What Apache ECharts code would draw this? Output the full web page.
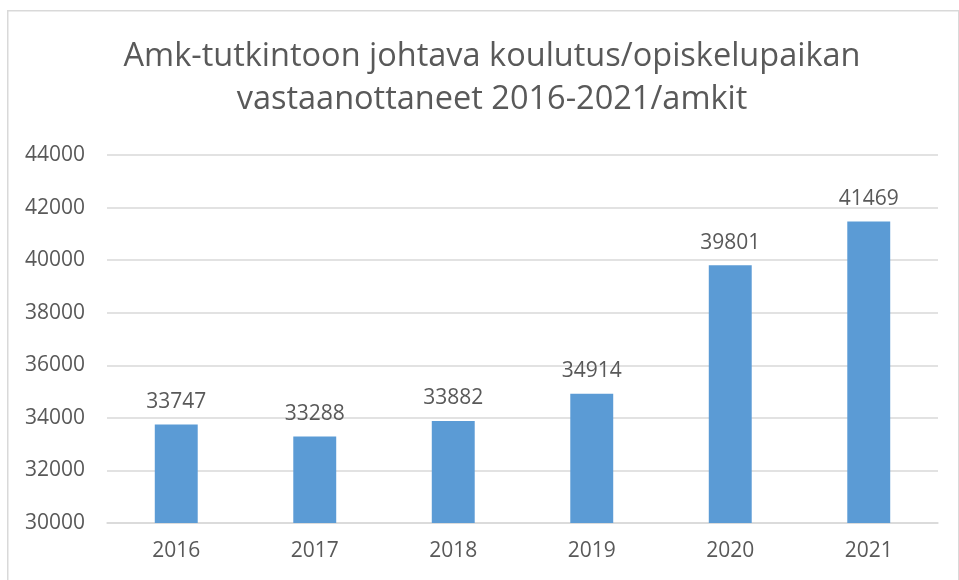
<!DOCTYPE html>
<html><head><meta charset="utf-8">
<script src="https://cdn.jsdelivr.net/npm/echarts@6/dist/echarts.min.js"></script>
<style>html,body{margin:0;padding:0;background:#fff}#c{width:959px;height:580px}</style>
</head><body><div id="c"></div>
<script>
const categories = ['2016','2017','2018','2019','2020','2021'];
const values = [33747, 33288, 33882, 34914, 39801, 41469];
const titleLines = ['Amk-tutkintoon johtava koulutus/opiskelupaikan', 'vastaanottaneet 2016-2021/amkit'];

const chart = echarts.init(document.getElementById('c'));
const txt = '#595959';
const ff = '"Open Sans", sans-serif';
chart.setOption({
  animation: false,
  graphic: [{
    type: 'rect', left: 7, top: 10, z: -1,
    shape: { width: 951, height: 600 },
    style: { fill: '#fff', stroke: '#D9D9D9', lineWidth: 1.5 }
  }],
  title: {
    text: titleLines.join('\n'),
    left: 487, top: 30, textAlign: 'center',
    textStyle: { fontFamily: ff, fontSize: 32.5, fontWeight: 'normal', color: txt, lineHeight: 43 }
  },
  grid: { left: 107, right: 21, top: 155, bottom: 57, containLabel: false },
  xAxis: {
    type: 'category', data: categories,
    axisLine: { lineStyle: { color: '#D9D9D9', width: 1.5 } },
    axisTick: { show: false },
    axisLabel: { color: txt, fontFamily: ff, fontSize: 21, margin: 18 }
  },
  yAxis: {
    type: 'value', min: 30000, max: 44000, interval: 2000,
    axisLine: { show: false }, axisTick: { show: false },
    splitLine: { lineStyle: { color: '#D9D9D9', width: 1.5 } },
    axisLabel: { color: txt, fontFamily: ff, fontSize: 21, margin: 22, formatter: v => String(v) }
  },
  series: [{
    type: 'bar', data: values, barCategoryGap: '69%',
    itemStyle: { color: '#5B9BD5' },
    label: { show: true, position: 'top', distance: 12, color: txt, fontFamily: ff, fontSize: 21 }
  }]
});
</script></body></html>
